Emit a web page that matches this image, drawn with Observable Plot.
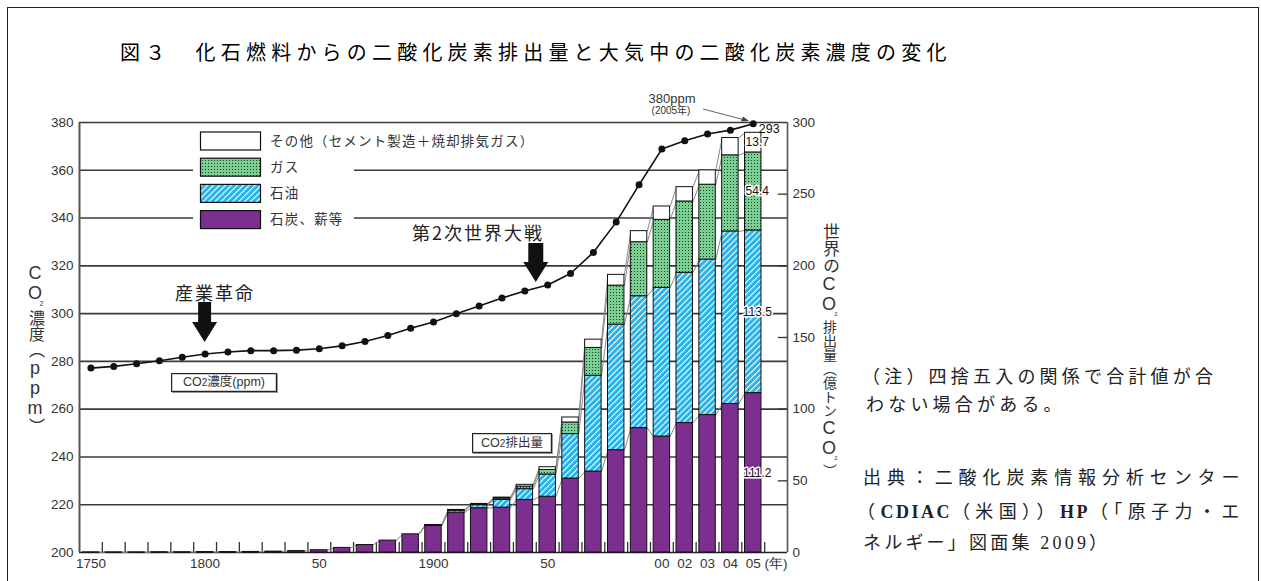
<!DOCTYPE html>
<html lang="ja">
<head>
<meta charset="utf-8">
<script src="https://cdn.jsdelivr.net/npm/d3@7"></script>
<script src="https://cdn.jsdelivr.net/npm/@observablehq/plot@0.6"></script>
<style>
html,body{margin:0;padding:0;background:#fff;}
#wrap{position:relative;width:1261px;height:581px;overflow:hidden;background:#fff;}
#frame{position:absolute;left:7px;top:7px;width:1252px;height:640px;border:1.6px solid #222;border-bottom:none;box-sizing:border-box;pointer-events:none;}
#chart{position:absolute;left:0;top:0;}
.t{position:absolute;white-space:nowrap;line-height:1;}
#title{left:120px;top:42px;font-family:"Noto Sans CJK JP",sans-serif;font-size:20px;letter-spacing:5.2px;font-weight:400;color:#000;}
.vlab{position:absolute;writing-mode:vertical-rl;text-orientation:upright;line-height:1;font-family:"Liberation Sans",Arial,"Noto Sans CJK JP",sans-serif;color:#333;white-space:nowrap;}
.note{font-family:"Liberation Serif","Noto Sans CJK JP",serif;font-size:18px;color:#222;}
.lat{letter-spacing:2.5px;font-weight:bold;}
.anno{font-family:"Noto Sans CJK JP",sans-serif;font-size:18px;color:#222;letter-spacing:2px;}
.boxlab{position:absolute;border:1px solid #222;box-shadow:1px 1px 0 #999, inset 0 0 0 1px #ccc;background:#fff;font-family:"Liberation Sans",Arial,"Noto Sans CJK JP",sans-serif;font-size:12.5px;color:#333;text-align:center;box-sizing:border-box;white-space:nowrap;}
.small{font-family:"Liberation Sans",Arial,"Noto Sans CJK JP",sans-serif;color:#333;text-align:center;}
</style>
</head>
<body>
<div id="wrap">
  <div id="chart"></div>
  <div id="frame"></div>
  <div class="t" id="title">図３　化石燃料からの二酸化炭素排出量と大気中の二酸化炭素濃度の変化</div>

  <div class="vlab" style="left:26px;top:263px;font-size:18px;">CO<span style="font-size:7px;position:relative;left:6px;top:-3px;">2</span><span style="font-size:16px;">濃度（</span>ppm<span style="font-size:16px;">）</span></div>
  <div class="vlab" style="left:820px;top:223px;font-size:18px;"><span style="font-size:17px;">世界の</span>CO<span style="font-size:6px;position:relative;left:7px;top:-3px;">2</span><span style="font-size:14px;">排出量（億トン</span>CO<span style="font-size:6px;position:relative;left:7px;top:-3px;">2</span><span style="font-size:14px;">）</span></div>

  <div class="t anno" style="left:175px;top:283px;">産業革命</div>
  <div class="t anno" style="left:412px;top:223px;">第2次世界大戦</div>

  <div class="t small" style="left:640px;top:92px;width:64px;font-size:13px;line-height:13px;">380ppm</div>
  <div class="t small" style="left:640px;top:106px;width:62px;font-size:10px;line-height:10px;">(2005年)</div>

  <div class="boxlab" style="left:171px;top:373px;width:106px;height:19px;line-height:17px;">CO<span style="font-size:10px;">2</span>濃度(ppm)</div>
  <div class="boxlab" style="left:472px;top:433px;width:80px;height:20px;line-height:18px;">CO<span style="font-size:10px;">2</span>排出量</div>

  <div class="t note" style="left:862px;top:368px;letter-spacing:4.2px;">（注）四捨五入の関係で合計値が合</div>
  <div class="t note" style="left:866px;top:396px;letter-spacing:4.2px;">わない場合がある。</div>
  <div class="t note" style="left:863px;top:469px;letter-spacing:5.9px;">出典：二酸化炭素情報分析センター</div>
  <div class="t note" style="left:857px;top:503px;letter-spacing:5.4px;">（<span class="lat">CDIAC</span>（米国））<span class="lat">HP</span>（「原子力・エ</div>
  <div class="t note" style="left:863px;top:534px;letter-spacing:3.2px;">ネルギー」図面集 2009）</div>
</div>
<script>
// ---- data ----
const labels = ["1750","1760","1770","1780","1790","1800","1810","1820","1830","1840","1850","1860","1870","1880","1890","1900","1910","1920","1930","1940","1950","1960","1970","1980","1990","2000","2002","2003","2004","2005"];
const co2ppm = [277.2,277.9,279.0,280.3,281.7,283.1,283.9,284.5,284.5,284.7,285.3,286.5,288.3,290.8,293.9,296.5,299.9,303.2,306.5,309.5,312.0,316.8,325.6,338.3,353.9,368.9,372.4,375.2,376.8,379.5];
const coal  = [0.1,0.1,0.1,0.2,0.2,0.3,0.3,0.4,0.6,1.0,1.6,3.2,5.2,8.3,12.7,18.5,27.8,30.9,31.3,36.7,38.9,51.6,56.5,71.4,86.8,80.9,90.3,95.9,103.6,111.2];
const oil   = [0,0,0,0,0,0,0,0,0,0,0,0,0,0,0,0.5,1.2,2.1,5.4,7.5,15.5,31.0,66.8,87.6,92.0,103.7,104.8,108.5,120.4,113.5];
const gas   = [0,0,0,0,0,0,0,0,0,0,0,0,0,0,0,0.1,0.4,0.5,1.0,1.8,3.2,8.1,19.4,27.2,37.7,47.5,49.8,52.2,53.1,54.4];
const other = [0,0,0,0,0,0,0,0,0,0,0,0,0,0,0,0.1,0.3,0.4,0.6,1.2,1.9,3.5,5.8,7.5,7.7,9.3,10.0,10.0,12.1,13.7];
const seriesNames = ["石炭、薪等","石油","ガス","その他（セメント製造＋焼却排気ガス）"];
const leftTicks = [200,220,240,260,280,300,320,340,360,380];
const rightTicks = [0,50,100,150,200,250,300];
const xTickIdx = [0,5,10,15,20,25,26,27,28,29,30];
const xTickText = ["1750","1800","50","1900","50","00","02","03","04","05","(年)"];

// ---- derived tables ----
const seriesValues = [coal, oil, gas, other];
const fills = ["#7c2f8e","url(#oilPat)","url(#gasPat)","#ffffff"];
const toE = p => (p - 200) * 300 / 180;   // ppm axis -> emission axis
const hw = 0.36;
const segs = [[],[],[],[]];
const tops = [[],[],[],[]];
labels.forEach((lab, i) => {
  let cum = 0;
  seriesValues.forEach((vals, k) => {
    const v = vals[i];
    if (v > 0) segs[k].push({i, y1: cum, y2: cum + v, v, k});
    cum += v;
    tops[k][i] = cum;
  });
});
const links = [];
for (let k = 0; k < 4; k++) {
  for (let i = 0; i < labels.length - 1; i++) {
    if (seriesValues[k][i] > 0 || seriesValues[k][i + 1] > 0) {
      links.push({x1: i + hw, y1: tops[k][i], x2: i + 1 - hw, y2: tops[k][i + 1]});
    }
  }
}
const co2Data = co2ppm.map((p, i) => ({i, e: toE(p)}));
const last = labels.length - 1;
const lastSegs = seriesValues.map((vals, k) => ({i: last, y: (k === 0 ? 0 : tops[k-1][last]) + vals[last] / 2, text: vals[last].toFixed(1)}));
const lastTotal = [{i: last, y: tops[3][last], text: String(Math.round(tops[3][last]))}];

const chart = Plot.plot({
  width: 1261, height: 581,
  marginLeft: 79, marginRight: 474, marginTop: 122, marginBottom: 29,
  x: {type: "linear", domain: [-0.5, 30.5]},
  y: {domain: [0, 300]},
  style: {fontFamily: "Liberation Sans, Arial, sans-serif", fontSize: "13.5px", color: "#333", background: "transparent", overflow: "visible"},
  marks: [
    Plot.ruleY(leftTicks.slice(1).map(toE), {stroke: "#3a3a3a", strokeWidth: 1.6}),
    Plot.ruleY([0], {stroke: "#222", strokeWidth: 1.6}),
    Plot.ruleX([-0.5], {stroke: "#555", strokeWidth: 2}),
    Plot.ruleX([30.5], {stroke: "#555", strokeWidth: 1.6}),
    Plot.ruleY(rightTicks.filter(v => v > 0 && v < 300), {x1: 30.1, x2: 30.5, stroke: "#333", strokeWidth: 1.3}),
    Plot.ruleX(d3.range(0.5, 30, 1), {y1: 0, y2: 7, stroke: "#333", strokeWidth: 1.3}),
    Plot.link(links, {x1: "x1", y1: "y1", x2: "x2", y2: "y2", stroke: "#8a8a8a", strokeWidth: 1}),
    ...segs.map((s, k) => Plot.rect(s, {x1: d => d.i - hw, x2: d => d.i + hw, y1: "y1", y2: "y2", fill: fills[k], stroke: "#111", strokeWidth: 1})),
    Plot.line(co2Data, {x: "i", y: "e", stroke: "#111", strokeWidth: 1.6}),
    Plot.dot(co2Data, {x: "i", y: "e", r: 3.5, fill: "#111", stroke: "none"}),
    Plot.axisY({anchor: "left", ticks: leftTicks.map(toE), tickFormat: e => String(Math.round(200 + e * 0.6)), tickSize: 0, tickPadding: 6}),
    Plot.axisY({anchor: "right", ticks: rightTicks, tickFormat: d => String(d), tickSize: 0, tickPadding: 5}),
    Plot.axisX({ticks: xTickIdx, tickFormat: d => xTickText[xTickIdx.indexOf(d)], tickSize: 0, tickPadding: 6}),
    Plot.text(lastSegs, {x: "i", y: "y", text: "text", dx: 4, fontSize: 12, fill: "#111", stroke: "white", strokeWidth: 3}),
    Plot.text(lastTotal, {x: "i", y: "y", text: "text", dx: 16, dy: -4, fontSize: 12.5, fill: "#111"})
  ]
});
document.getElementById("chart").appendChild(chart);

// ---- patterns, legend & annotations ----
const svg = d3.select(chart);
const defs = svg.insert("defs", ":first-child");
const gp = defs.append("pattern").attr("id", "gasPat").attr("width", 3).attr("height", 3).attr("patternUnits", "userSpaceOnUse");
gp.append("rect").attr("width", 3).attr("height", 3).attr("fill", "#7bcf92");
gp.append("rect").attr("x", 1).attr("y", 1).attr("width", 1).attr("height", 1).attr("fill", "#1d3b26");
const op = defs.append("pattern").attr("id", "oilPat").attr("width", 4.2).attr("height", 4.2).attr("patternUnits", "userSpaceOnUse").attr("patternTransform", "rotate(45)");
op.append("rect").attr("width", 4.2).attr("height", 4.2).attr("fill", "#25b3ea");
op.append("rect").attr("width", 1.1).attr("height", 4.2).attr("fill", "#ffffff");

const g = svg.append("g").attr("text-anchor", "start");
// legend
g.append("rect").attr("x", 193).attr("y", 128).attr("width", 161).attr("height", 106).attr("fill", "#fff");
const legendRows = [3, 2, 1, 0];
legendRows.forEach((k, r) => {
  const y = 132 + r * 26.2;
  g.append("rect").attr("x", 200.5).attr("y", y).attr("width", 60).attr("height", 18)
    .attr("fill", fills[k]).attr("stroke", "#111").attr("stroke-width", 1.2);
  g.append("text").attr("x", 270).attr("y", y + 9).attr("dy", "0.36em").attr("text-anchor", "start")
    .attr("font-family", "Noto Sans CJK JP, sans-serif").attr("font-size", 13.5).attr("letter-spacing", 1.2)
    .attr("fill", "#333").text(seriesNames[k]);
});
// block arrows
function blockArrow(cx, yTop, yNeck, yTip, sw, hw2) {
  g.append("path").attr("fill", "#111")
    .attr("d", `M${cx - sw},${yTop}L${cx + sw},${yTop}L${cx + sw},${yNeck}L${cx + hw2},${yNeck}L${cx},${yTip}L${cx - hw2},${yNeck}L${cx - sw},${yNeck}Z`);
}
const xs = chart.scale("x");
blockArrow(xs.apply(5), 302, 322, 342, 6.5, 12.5);
blockArrow(xs.apply(19.5), 243, 262, 282, 7.5, 12.5);
// 380ppm pointer
g.append("line").attr("x1", 703).attr("y1", 109).attr("x2", 745).attr("y2", 120).attr("stroke", "#666").attr("stroke-width", 1);
g.append("path").attr("d", "M749,121L741,121.5L743,116.5Z").attr("fill", "#444");
</script>
</body>
</html>
